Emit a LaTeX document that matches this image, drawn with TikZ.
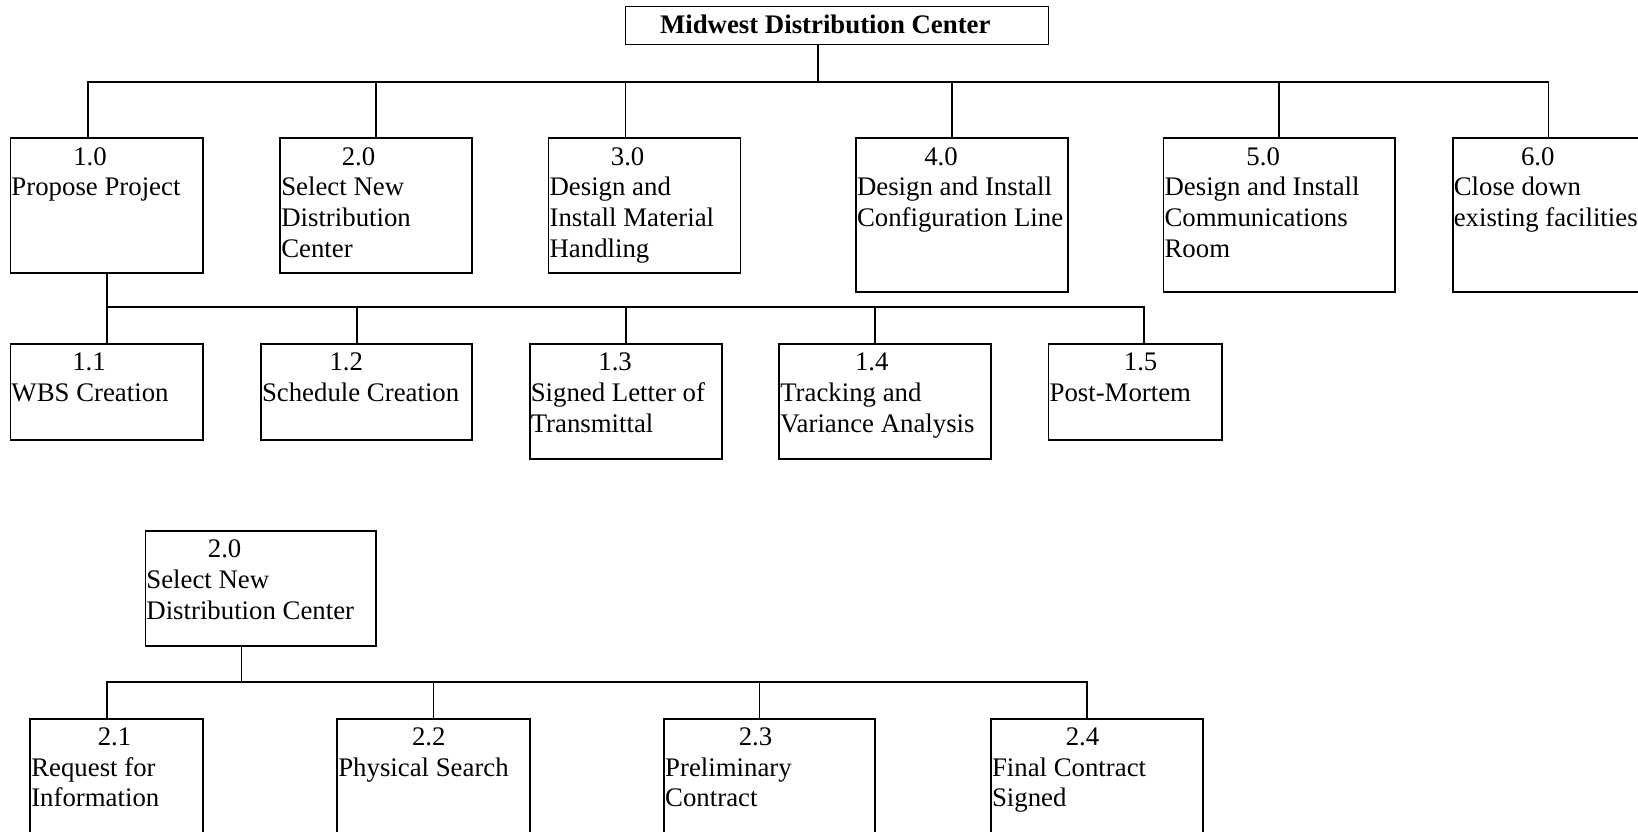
\documentclass[tikz,border=0pt]{standalone}
\usepackage{fontspec}
\setmainfont{Liberation Serif}
\usetikzlibrary{calc}
\tikzset{
  wbs/.style={draw, rectangle, line width=1.7pt, inner sep=0pt, outer sep=0pt, anchor=north west},
  lbl/.style={inner sep=0pt, outer sep=0pt, font=\fontsize{26.8}{30.8}\selectfont, anchor=base west},
  numlbl/.style={lbl, anchor=base},
  conn/.style={line width=1.7pt},
}
\newcommand{\wbsbox}[8]{%
  \node[wbs, minimum width={(#4-#2)*1pt}, minimum height={(#5-#3)*1pt}] (#1) at (#2,#3) {};
  \node[numlbl] (#1-n) at ($(#1.north west)+(#6,26.8)$) {#7};
  \foreach \ln [count=\i] in {#8} {
    \node[lbl] (#1-l\i) at ($(#1.north west)+(1,57.3+30.8*\i-30.8)$) {\ln};
  }
}
\newcommand{\wbslink}[5]{%
  \draw[conn] ($(#1.south west)+(#2,0)$) -- ++(0,#3) -| ($(#4.north west)+(#5,0)$);
}
\begin{document}
\begin{tikzpicture}[x=1pt,y=-1pt]
\clip (0,0) rectangle (1638,832);
\fill[white] (0,0) rectangle (1638,832);

% root
\node[wbs, minimum width=423pt, minimum height=38pt] (root) at (625.5,6.5) {};
\node[lbl, font=\fontsize{26.8}{30.8}\selectfont\bfseries] (root-t) at (660,33.5) {Midwest Distribution Center};

% level 1
\wbsbox{b10}{10.5}{138.3}{203}{273.3}{79.5}{1.0}{Propose Project}
\wbsbox{b20}{280.3}{138.3}{471.8}{273.3}{78.2}{2.0}{Select New,Distribution,Center}
\wbsbox{b30}{548.6}{138.3}{740.6}{273.3}{79}{3.0}{Design and,Install Material,Handling}
\wbsbox{b40}{856}{138.3}{1068}{292.3}{85}{4.0}{Design and Install,Configuration Line}
\wbsbox{b50}{1163.6}{138.3}{1395.3}{292.3}{99.6}{5.0}{Design and Install,Communications,Room}
\wbsbox{b60}{1452.8}{138.3}{1670}{292.3}{85}{6.0}{Close down,existing facilities}

% level 2 under 1.0
\wbsbox{b11}{10.5}{344}{203}{440.3}{78.5}{1.1}{WBS Creation}
\wbsbox{b12}{261}{344}{471.8}{440.3}{85.3}{1.2}{Schedule Creation}
\wbsbox{b13}{529.8}{344}{722.3}{459.3}{85.3}{1.3}{Signed Letter of,Transmittal}
\wbsbox{b14}{779.3}{344}{991}{459.3}{92.5}{1.4}{Tracking and,Variance Analysis}
\wbsbox{b15}{1048.6}{344}{1222.2}{440.3}{92}{1.5}{Post-Mortem}

% lower tree
\wbsbox{c20}{145.4}{531}{376}{646}{79.2}{2.0}{Select New,Distribution Center}
\wbsbox{b21}{30.3}{718.7}{203}{870}{84.2}{2.1}{Request for,Information}
\wbsbox{b22}{337.3}{718.7}{529.8}{870}{91.5}{2.2}{Physical Search}
\wbsbox{b23}{664.2}{718.7}{875}{870}{91.3}{2.3}{Preliminary,Contract}
\wbsbox{b24}{991}{718.7}{1202.8}{870}{91.5}{2.4}{Final Contract,Signed}

% connectors: root -> level 1
\wbslink{root}{192.5}{37.8}{b10}{77.5}
\wbslink{root}{192.5}{37.8}{b20}{95.7}
\wbslink{root}{192.5}{37.8}{b30}{76.9}
\wbslink{root}{192.5}{37.8}{b40}{96.3}
\wbslink{root}{192.5}{37.8}{b50}{115.6}
\wbslink{root}{192.5}{37.8}{b60}{95.8}

% 1.0 -> children
\wbslink{b10}{96.7}{34}{b11}{96.5}
\wbslink{b10}{96.7}{34}{b12}{96.2}
\wbslink{b10}{96.7}{34}{b13}{96.2}
\wbslink{b10}{96.7}{34}{b14}{95.7}
\wbslink{b10}{96.7}{34}{b15}{95.7}

% lower 2.0 -> children
\wbslink{c20}{96.2}{36}{b21}{76.9}
\wbslink{c20}{96.2}{36}{b22}{96.3}
\wbslink{c20}{96.2}{36}{b23}{95.2}
\wbslink{c20}{96.2}{36}{b24}{96.3}
\end{tikzpicture}
\end{document}
